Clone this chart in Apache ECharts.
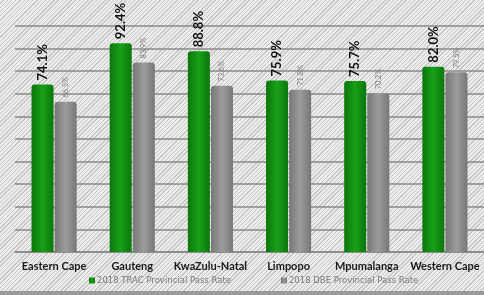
<!DOCTYPE html>
<html>
<head>
<meta charset="utf-8">
<script src="https://cdn.jsdelivr.net/npm/echarts@6/dist/echarts.min.js"></script>
<style>
  html, body { margin: 0; padding: 0; }
  .chart-container {
    width: 484px;
    height: 295px;
    background-color: #e4e4e4;
    background-image: repeating-linear-gradient(135deg, #ececec 0px, #ececec 2px, #c6c6c6 2px, #c6c6c6 3px);
    border-bottom: 4px solid #9a9a9a;
    box-sizing: border-box;
  }
  #PassRateChart { width: 100%; height: 100%; }
</style>
</head>
<body>
<div class="chart-container">
  <div id="PassRateChart"></div>
</div>
<script>
const provinces = ['Eastern Cape', 'Gauteng', 'KwaZulu-Natal', 'Limpopo', 'Mpumalanga', 'Western Cape'];
const tracRates = [74.1, 92.4, 88.8, 75.9, 75.7, 82.0];
const dbeRates = [66.5, 83.9, 73.6, 71.8, 70.2, 79.5];
const seriesNames = ['2018 TRAC Provincial Pass Rate', '2018 DBE Provincial Pass Rate'];

const BAR_W = 22;
const BAR_GAP = 0.05;

const myChart = echarts.init(document.getElementById('PassRateChart'));

const barGradient = (edge, mid) => new echarts.graphic.LinearGradient(0, 0, 1, 0, [
  { offset: 0, color: edge },
  { offset: 0.5, color: mid },
  { offset: 1, color: edge }
]);

// bold rotated labels for the green bars, drawn as custom text
// (the bar label ignores rotate when bold in this build)
const tracLabel = (params, api) => {
  const pt = api.coord([api.value(0), api.value(1)]);
  const shift = (BAR_W * (1 + BAR_GAP)) / 2;
  return {
    type: 'text',
    x: pt[0] - shift,
    y: pt[1] - 4,
    rotation: Math.PI / 2,
    style: {
      text: api.value(1).toFixed(1) + '%',
      align: 'left',
      verticalAlign: 'middle',
      fontSize: 13,
      fontWeight: 'bold',
      fontFamily: 'Lato, "DejaVu Sans", sans-serif',
      fill: '#111'
    }
  };
};

const option = {
  animation: false,
  backgroundColor: 'transparent',
  textStyle: { fontFamily: 'Lato, "DejaVu Sans", sans-serif' },
  legend: {
    data: seriesNames,
    bottom: 1,
    left: 84,
    itemWidth: 6,
    itemHeight: 6,
    itemGap: 50,
    icon: 'rect',
    textStyle: { fontSize: 8.5, color: '#7a7a7a', fontFamily: '"DejaVu Sans", sans-serif', padding: [0, 0, 0, -3] }
  },
  grid: { left: 15, right: -4, top: 26, bottom: 39 },
  xAxis: {
    type: 'category',
    data: provinces,
    axisTick: { show: false },
    axisLine: { lineStyle: { color: '#888', width: 1.5 } },
    axisLabel: { color: '#1a1a1a', fontWeight: 'bold', fontSize: 11, margin: 9, interval: 0 }
  },
  yAxis: {
    type: 'value', min: 0, max: 100, interval: 10,
    axisLabel: { show: false }, axisLine: { show: false }, axisTick: { show: false },
    splitLine: { lineStyle: { color: '#8a8a8a', width: 1.5 } }
  },
  series: [
    {
      name: seriesNames[0],
      type: 'bar',
      data: tracRates,
      barWidth: BAR_W,
      barGap: (BAR_GAP * 100) + '%',
      itemStyle: { color: barGradient('#0b760b', '#18a018'), borderRadius: [3, 3, 0, 0] }
    },
    {
      name: seriesNames[1],
      type: 'bar',
      data: dbeRates,
      barWidth: BAR_W,
      itemStyle: { color: barGradient('#777', '#9c9c9c'), borderRadius: [3, 3, 0, 0] },
      label: {
        show: true,
        position: 'top',
        rotate: 90,
        align: 'left',
        verticalAlign: 'middle',
        distance: 4,
        fontSize: 7.5,
        color: '#7d7d7d',
        formatter: p => p.value.toFixed(1) + '%'
      }
    },
    {
      name: 'trac-labels',
      type: 'custom',
      silent: true,
      z: 10,
      data: tracRates.map((v, i) => [i, v]),
      renderItem: tracLabel
    }
  ],
  color: ['#129412', '#8c8c8c']
};

myChart.setOption(option);
</script>
</body>
</html>
